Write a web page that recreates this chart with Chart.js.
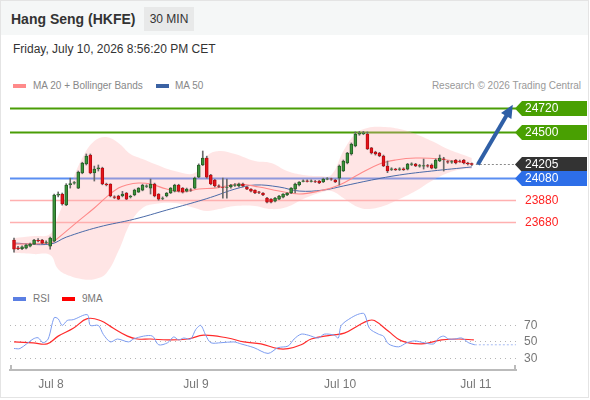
<!DOCTYPE html>
<html>
<head>
<meta charset="utf-8">
<script src="https://cdn.jsdelivr.net/npm/chart.js@4.4.0/dist/chart.umd.min.js"></script>
<style>
  body { margin: 0; background: #fff; font-family: Arial, "Liberation Sans", sans-serif; position: relative; width: 590px; height: 400px; overflow: hidden; }
  #frame { position: absolute; left: 0; top: 0; width: 587px; height: 396px; border: 1px solid #e4e4e4; }
  #head { position: absolute; left: 1px; top: 1px; width: 587px; height: 34px; background: #f5f7f7; }
  #title { position: absolute; left: 11px; top: 10px; line-height: 18px; font-size: 14px; font-weight: bold; color: #333; }
  #tf { position: absolute; left: 144px; top: 7px; width: 50px; height: 24px; line-height: 24px; text-align: center; background: #e8e9e9; font-size: 12px; color: #333; }
  #date { position: absolute; left: 13px; top: 41px; line-height: 16px; font-size: 12px; color: #333; }
  .leg { position: absolute; font-size: 10px; line-height: 12px; color: #888; }
  .sw { position: absolute; width: 13px; height: 4px; }
  canvas { position: absolute; left: 0; }
</style>
</head>
<body>
<div id="frame"></div>
<div id="head"></div>
<div id="title">Hang Seng (HKFE)</div>
<div id="tf">30 MIN</div>
<div id="date">Friday, July 10, 2026 8:56:20 PM CET</div>

<div class="sw" style="left:13px;top:84px;background:#ff8a8a"></div>
<div class="leg" style="left:33px;top:80px">MA 20 + Bollinger Bands</div>
<div class="sw" style="left:156px;top:84px;background:#3b62a3"></div>
<div class="leg" style="left:175px;top:80px">MA 50</div>
<div class="leg" style="right:9px;top:80px;color:#999">Research © 2026 Trading Central</div>

<canvas id="main" width="590" height="190" style="top:96px"></canvas>

<div class="sw" style="left:13px;top:297px;background:#5b7fe3"></div>
<div class="leg" style="left:33px;top:293px;color:#777">RSI</div>
<div class="sw" style="left:62px;top:297px;background:#ff0000"></div>
<div class="leg" style="left:82px;top:293px;color:#777">9MA</div>

<canvas id="rsi" width="590" height="96" style="top:302px"></canvas>

<script>
// 30 min candles, oldest first
const opens = [
  23517, 23446, 23440, 23444, 23463, 23481, 23515, 23517, 23495, 23463,
  23508, 23925, 23936, 23836, 24020, 24035, 23990, 24127, 24209, 24291,
  24127, 24165, 24172, 24027, 24027, 23910, 23918, 23920, 23945, 23910,
  23927, 23954, 23972, 24005, 23990, 24027, 23936, 23895, 23918, 23945,
  23963, 24018, 23990, 23963, 23975, 23990, 24090, 24200, 24263, 24109,
  24063, 24010, 24000, 23995, 24000, 24015, 24009, 24027, 24000, 23981,
  23972, 23955, 23945, 23899, 23890, 23872, 23890, 23908, 23927, 23945,
  23981, 24018, 24050, 24055, 24050, 24050, 24054, 24045, 24070, 24075,
  24063, 24081, 24145, 24218, 24300, 24373, 24480, 24485, 24482, 24355,
  24318, 24309, 24282, 24191, 24160, 24163, 24160, 24165, 24163, 24205,
  24209, 24190, 24190, 24195, 24200, 24172, 24236, 24255, 24230, 24225,
  24245, 24235, 24245, 24218, 24212
];
const highs = [
  23535, 23460, 23465, 23480, 23490, 23525, 23530, 23525, 23510, 23545,
  23935, 23955, 23945, 24030, 24080, 24050, 24145, 24225, 24300, 24300,
  24190, 24200, 24180, 24035, 24030, 23920, 23925, 23960, 23950, 23925,
  23980, 23995, 24025, 24020, 24072, 24035, 23940, 23910, 23950, 23995,
  24025, 24025, 23995, 23990, 23985, 24090, 24210, 24327, 24280, 24115,
  24070, 24020, 24081, 24072, 24025, 24030, 24035, 24035, 24005, 23985,
  23975, 23960, 23950, 23905, 23895, 23905, 23925, 23940, 23950, 23995,
  24035, 24050, 24065, 24065, 24065, 24060, 24060, 24080, 24085, 24080,
  24070, 24200, 24245, 24315, 24400, 24500, 24505, 24505, 24500, 24360,
  24325, 24315, 24290, 24236, 24175, 24170, 24175, 24175, 24215, 24220,
  24215, 24205, 24254, 24205, 24210, 24255, 24291, 24270, 24240, 24240,
  24250, 24245, 24250, 24225, 24218
];
const lows = [
  23408, 23430, 23430, 23438, 23455, 23475, 23500, 23485, 23485, 23435,
  23500, 23910, 23835, 23830, 23990, 24025, 23985, 24120, 24200, 24120,
  24054, 24145, 24020, 24010, 23910, 23895, 23885, 23910, 23885, 23900,
  23920, 23950, 23965, 23995, 23936, 23910, 23880, 23885, 23910, 23940,
  23955, 23955, 23945, 23955, 23960, 23985, 24085, 24195, 24080, 24020,
  24000, 23995, 23899, 23899, 23990, 24005, 24000, 24000, 23975, 23955,
  23940, 23940, 23920, 23855, 23855, 23865, 23885, 23900, 23920, 23940,
  23945, 24010, 24045, 24045, 24045, 24040, 24030, 24040, 24065, 24060,
  24040, 24018, 24140, 24210, 24290, 24365, 24470, 24475, 24340, 24300,
  24290, 24275, 24185, 24130, 24150, 24150, 24150, 24150, 24155, 24195,
  24185, 24180, 24163, 24180, 24165, 24165, 24230, 24145, 24215, 24215,
  24210, 24225, 24210, 24200, 24195
];
const closes = [
  23435, 23440, 23455, 23472, 23481, 23517, 23510, 23490, 23500, 23535,
  23927, 23935, 23845, 24018, 24030, 24040, 24136, 24218, 24282, 24127,
  24163, 24175, 24027, 24020, 23918, 23905, 23890, 23935, 23890, 23915,
  23972, 23990, 24018, 24010, 24027, 23918, 23890, 23900, 23945, 23990,
  24018, 23963, 23954, 23981, 23970, 24081, 24200, 24263, 24090, 24027,
  24009, 24005, 23995, 24000, 24018, 24020, 24027, 24009, 23981, 23963,
  23945, 23950, 23927, 23863, 23863, 23899, 23918, 23936, 23945, 23990,
  24027, 24045, 24055, 24050, 24055, 24045, 24036, 24072, 24075, 24070,
  24045, 24191, 24236, 24309, 24391, 24482, 24490, 24490, 24346, 24309,
  24300, 24282, 24191, 24145, 24165, 24154, 24165, 24158, 24209, 24210,
  24191, 24195, 24195, 24190, 24172, 24245, 24263, 24250, 24225, 24230,
  24218, 24232, 24218, 24209, 24205
];

// Bollinger bands (20) read at sample candles
const bandIdx   = [0, 5, 9, 11, 14, 17, 20, 23, 26, 29, 32, 35, 40, 45, 48, 51, 55, 60, 64, 68, 72, 76, 79, 82, 85, 88, 92, 96, 100, 104, 108, 112, 114];
const bandUpper = [23535, 23554, 23572, 23736, 24009, 24263, 24418, 24454, 24400, 24300, 24254, 24209, 24145, 24127, 24282, 24327, 24300, 24236, 24218, 24145, 24109, 24100, 24109, 24327, 24482, 24536, 24545, 24527, 24482, 24418, 24346, 24291, 24263];
const bandLower = [23399, 23390, 23381, 23253, 23190, 23162, 23162, 23217, 23417, 23672, 23809, 23845, 23854, 23809, 23781, 23799, 23827, 23827, 23799, 23818, 23890, 23945, 23963, 23899, 23827, 23799, 23827, 23890, 23963, 24054, 24127, 24163, 24163];

const ma20Idx = [0, 9, 10, 16, 20, 23, 26, 28, 31, 34, 38, 42, 46, 50, 53, 56, 61, 66, 71, 76, 81, 86, 91, 95, 100, 106, 114];
const ma20    = [23481, 23490, 23508, 23690, 23809, 23908, 23990, 24018, 24036, 24027, 23981, 23954, 23981, 23990, 24009, 24027, 24000, 23963, 23936, 23963, 24018, 24118, 24209, 24245, 24263, 24254, 24209];
const ma50Idx = [0, 9, 13, 21, 30, 38, 46, 50, 55, 60, 66, 71, 77, 82, 89, 96, 104, 114];
const ma50    = [23490, 23481, 23544, 23635, 23708, 23790, 23872, 23918, 23981, 24018, 24000, 23963, 23972, 24009, 24063, 24109, 24145, 24182];

// key levels
const levelValues = [24720, 24500, 24205, 24080, 23880, 23680];
const levelKinds  = ['resist', 'resist', 'last', 'pivot', 'support', 'support'];

// RSI panel
const rsiIdx = [0, 1.5, 4.75, 6, 7.25, 8.5, 10, 11, 12, 13.25, 14.75, 18.25, 19, 21, 22.25, 24, 25.75, 28.5, 29.75, 32.25, 34.5, 36, 38.25, 39.75, 41, 42.25, 44, 45.25, 46.5, 47.75, 49, 51.5, 54.75, 56.5, 59.75, 63.25, 65.75, 68.25, 69.75, 71.5, 73.25, 75.75, 77.25, 79.75, 80.75, 81.5, 84, 86, 87.25, 88.5, 90.75, 92, 93.25, 95.75, 97.75, 99.75, 102.25, 104.5, 105.75, 107, 108.25, 109.75, 111.5, 113.25, 114.75];
const rsiVal = [42, 42, 53.5, 55, 49, 53.5, 79.4, 78, 70, 76, 77, 83, 70, 70, 59, 50, 53.5, 50, 53.5, 57, 57, 46.5, 49, 56, 52.4, 54.7, 53.5, 65, 70, 58, 49, 49, 50, 47.6, 43, 36, 43, 45, 53.5, 59.4, 58.2, 54.7, 59.4, 58.2, 54.7, 70, 79.4, 84, 84, 66.5, 59.4, 57, 47.6, 44, 48.8, 51.2, 48.8, 47.6, 54.7, 57, 53.5, 53.5, 54.7, 48.8, 46.5];
const rsiMaIdx = [0, 4.75, 8.25, 11, 14.75, 18.25, 21.5, 24.75, 28.25, 30.75, 34, 38.25, 43.25, 47.25, 53.25, 57.25, 61.5, 65.75, 68.25, 71.5, 74, 79, 82.25, 85.75, 88.25, 89.75, 93.25, 96.5, 101.5, 106.5, 110.75, 114.5];
const rsiMa    = [50, 48.8, 47.6, 57, 66.5, 78.2, 75.9, 66.5, 57, 53.5, 53.5, 52.4, 53.5, 58.2, 54.7, 50, 47.6, 41.8, 41.8, 46.5, 53.5, 58.2, 60.6, 70, 75.9, 75.9, 62.9, 51.2, 47.6, 52.4, 53.5, 52.4];
const rsiLevels = [30, 50, 70];

const dayLabels = ['Jul 8', 'Jul 9', 'Jul 10', 'Jul 11'];
const dayIdx    = [9.2, 45.3, 81.2, 115];

Chart.defaults.font.family = 'Arial, "Liberation Sans", sans-serif';

const X_MIN = -1, X_MAX = 125;
const pts = (xs, ys) => xs.map((x, i) => ({ x: x, y: ys[i] }));
const n = closes.length;
const candleIdx = closes.map((_, i) => i);
const isUp = candleIdx.map(i => closes[i] >= opens[i]);

const levelStyle = {
  resist:  { line: '#4a9d06', width: 2, box: '#49a002', text: '#fff' },
  last:    { line: null, width: 0, box: '#333333', text: '#fff' },
  pivot:   { line: '#5a8ef2', width: 2, box: '#2d6ee8', text: '#fff' },
  support: { line: '#ffb0b0', width: 1.5, box: null, text: '#ff2323' }
};

const levelsPlugin = {
  id: 'levels',
  beforeDatasetsDraw(chart) {
    const { ctx, chartArea, scales } = chart;
    ctx.save();
    levelValues.forEach((v, i) => {
      const st = levelStyle[levelKinds[i]];
      const y = Math.round(scales.y.getPixelForValue(v)) + 0.5;
      if (st.line) {
        ctx.strokeStyle = st.line;
        ctx.lineWidth = st.width;
        ctx.beginPath();
        ctx.moveTo(chartArea.left, y);
        ctx.lineTo(chartArea.right, y);
        ctx.stroke();
      } else {
        // last price: dotted from the last candle
        ctx.strokeStyle = '#8a8a8a';
        ctx.lineWidth = 1;
        ctx.setLineDash([2, 2]);
        ctx.beginPath();
        ctx.moveTo(scales.x.getPixelForValue(n), y);
        ctx.lineTo(chartArea.right, y);
        ctx.stroke();
        ctx.setLineDash([]);
      }
    });
    ctx.restore();
  },
  afterDraw(chart) {
    const { ctx, chartArea, scales } = chart;
    ctx.save();
    // forecast arrow
    const x0 = scales.x.getPixelForValue(n + 0.5), y0 = scales.y.getPixelForValue(closes[n - 1]);
    const x1 = scales.x.getPixelForValue(124.2), y1 = scales.y.getPixelForValue(24748);
    const ang = Math.atan2(y1 - y0, x1 - x0);
    const head = 13;
    ctx.strokeStyle = '#2f5fa6';
    ctx.fillStyle = '#2f5fa6';
    ctx.lineWidth = 4;
    ctx.beginPath();
    ctx.moveTo(x0, y0);
    ctx.lineTo(x1 - Math.cos(ang) * head * 0.8, y1 - Math.sin(ang) * head * 0.8);
    ctx.stroke();
    ctx.beginPath();
    ctx.moveTo(x1, y1);
    ctx.lineTo(x1 - head * Math.cos(ang) + 6 * Math.sin(ang), y1 - head * Math.sin(ang) - 6 * Math.cos(ang));
    ctx.lineTo(x1 - head * Math.cos(ang) - 6 * Math.sin(ang), y1 - head * Math.sin(ang) + 6 * Math.cos(ang));
    ctx.closePath();
    ctx.fill();

    // level tags on the right
    ctx.font = '12px Arial, "Liberation Sans", sans-serif';
    ctx.textBaseline = 'middle';
    levelValues.forEach((v, i) => {
      const st = levelStyle[levelKinds[i]];
      const y = Math.round(scales.y.getPixelForValue(v)) + 0.5;
      const left = chartArea.right - 1, right = chart.width - 3, h = 15;
      if (st.box) {
        ctx.fillStyle = st.box;
        ctx.beginPath();
        ctx.moveTo(left, y);
        ctx.lineTo(left + 7, y - h / 2);
        ctx.lineTo(right, y - h / 2);
        ctx.lineTo(right, y + h / 2);
        ctx.lineTo(left + 7, y + h / 2);
        ctx.closePath();
        ctx.fill();
      }
      ctx.fillStyle = st.text;
      ctx.fillText(String(v), left + 10, y + 0.5);
    });
    ctx.restore();
  }
};

new Chart(document.getElementById('main'), {
  type: 'bar',
  data: {
    datasets: [
      { type: 'line', data: pts(bandIdx, bandUpper), borderWidth: 0, pointRadius: 0, tension: 0.4,
        fill: '+1', backgroundColor: 'rgba(255, 175, 175, 0.32)', order: 6 },
      { type: 'line', data: pts(bandIdx, bandLower), borderWidth: 0, pointRadius: 0, tension: 0.4,
        fill: false, order: 6 },
      { type: 'line', data: pts(ma50Idx, ma50), borderColor: '#4a6aa8', borderWidth: 1, pointRadius: 0,
        tension: 0.4, fill: false, order: 4 },
      { type: 'line', data: pts(ma20Idx, ma20), borderColor: '#ff8a8a', borderWidth: 1.1, pointRadius: 0,
        tension: 0.4, fill: false, order: 3 },
      { data: candleIdx.map(i => ({ x: i, y: [lows[i], highs[i]] })), backgroundColor: '#6a6a6a',
        barThickness: 1, grouped: false, order: 2 },
      { data: candleIdx.map(i => ({ x: i, y: [opens[i], closes[i]] })),
        backgroundColor: isUp.map(u => u ? '#3a953a' : '#e5141c'),
        borderColor: isUp.map(u => u ? '#275f27' : '#b80d12'),
        borderWidth: 1, borderSkipped: false, barThickness: 3, grouped: false, order: 1 }
    ]
  },
  options: {
    responsive: false,
    animation: false,
    layout: { padding: { left: 10, right: 74, top: 0, bottom: 0 } },
    plugins: { legend: { display: false }, tooltip: { enabled: false } },
    scales: {
      x: { type: 'linear', min: X_MIN, max: X_MAX, offset: false, display: false },
      y: { min: 23100, max: 24827, display: false }
    }
  },
  plugins: [levelsPlugin]
});

const axisEnds = {
  id: 'axisEnds',
  afterDraw(chart) {
    const { ctx, chartArea } = chart;
    ctx.save();
    ctx.strokeStyle = '#bbbbbb';
    ctx.lineWidth = 2;
    [chartArea.left + 1, chartArea.right - 1].forEach(x => {
      ctx.beginPath();
      ctx.moveTo(x, chartArea.bottom - 5);
      ctx.lineTo(x, chartArea.bottom);
      ctx.stroke();
    });
    ctx.restore();
  }
};

const noPad = s => { s.paddingTop = 0; s.paddingBottom = 0; s.paddingLeft = 0; s.paddingRight = 0; };
const lastRsi = rsiVal[rsiVal.length - 1];
new Chart(document.getElementById('rsi'), {
  type: 'line',
  data: {
    datasets: [
      { data: pts(rsiIdx, rsiVal), borderColor: '#7c9cf0', borderWidth: 1, pointRadius: 0, tension: 0.3 },
      { data: pts(rsiMaIdx, rsiMa), borderColor: '#ff2b2b', borderWidth: 1.2, pointRadius: 0, tension: 0.4 },
      { data: [{ x: rsiIdx[rsiIdx.length - 1], y: lastRsi }, { x: X_MAX, y: lastRsi }],
        borderColor: '#a8bcf4', borderWidth: 1, borderDash: [2, 2], pointRadius: 0 }
    ]
  },
  options: {
    responsive: false,
    animation: false,
    layout: { padding: { left: 10, top: 5, right: 0, bottom: 0 } },
    plugins: { legend: { display: false }, tooltip: { enabled: false } },
    scales: {
      x: {
        type: 'linear', min: X_MIN, max: X_MAX, offset: false,
        grid: { display: false, drawTicks: false },
        border: { display: true, color: '#bbbbbb', width: 2 },
        afterBuildTicks: s => { s.ticks = dayIdx.map(v => ({ value: v })); },
        afterFit: s => { s.height = 28; noPad(s); },
        ticks: { color: '#777', font: { size: 12 }, padding: 7, maxRotation: 0, autoSkip: false,
                 callback: (v, i) => dayLabels[i] }
      },
      y: {
        position: 'right', min: 15.9, max: 92.35,
        afterBuildTicks: s => { s.ticks = rsiLevels.map(v => ({ value: v })); },
        afterFit: s => { s.width = 74; noPad(s); },
        grid: { color: '#b5b5b5', drawTicks: false, lineWidth: 1 },
        border: { display: false, dash: [1, 4] },
        ticks: { color: '#777', font: { size: 12 }, padding: 8 }
      }
    }
  },
  plugins: [axisEnds]
});
</script>
</body>
</html>
